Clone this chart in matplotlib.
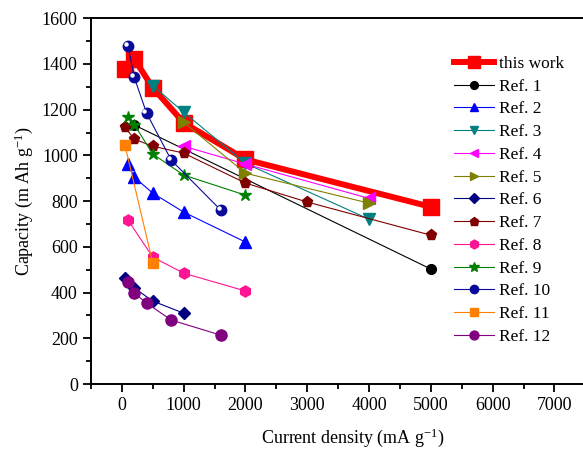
import matplotlib
matplotlib.use('Agg')
import matplotlib.pyplot as plt
import matplotlib.transforms as mtrans
from matplotlib.ticker import MultipleLocator, FuncFormatter

plt.rcParams['font.family'] = ['Liberation Serif', 'DejaVu Serif']
plt.rcParams['mathtext.fontset'] = 'stix'

# data (current density mA/g, capacity mAh/g)
this_x = [50, 200, 500, 1000, 2000, 5000]
this_y = [1378, 1422, 1296, 1143, 982, 775]
ref1_x = [200, 5000]
ref1_y = [1133, 503]
ref2_x = [100, 200, 500, 1000, 2000]
ref2_y = [962, 905, 835, 752, 621]
ref3_x = [500, 1000, 2000, 4000]
ref3_y = [1305, 1189, 965, 721]
ref4_x = [1000, 2000, 4000]
ref4_y = [1040, 962, 812]
ref5_x = [1000, 2000, 4000]
ref5_y = [1145, 922, 791]
ref6_x = [50, 200, 500, 1000]
ref6_y = [463, 420, 363, 310]
ref7_x = [50, 200, 500, 1000, 2000, 3000, 5000]
ref7_y = [1124, 1071, 1040, 1010, 879, 796, 651]
ref8_x = [100, 500, 1000, 2000]
ref8_y = [717, 555, 485, 407]
ref9_x = [100, 200, 500, 1000, 2000]
ref9_y = [1167, 1135, 1006, 914, 826]
ref10_x = [100, 200, 400, 800, 1600]
ref10_y = [1478, 1342, 1185, 979, 761]
ref11_x = [50, 500]
ref11_y = [1045, 530]
ref12_x = [100, 200, 400, 800, 1600]
ref12_y = [447, 399, 354, 280, 214]

fig = plt.figure(figsize=(5.83, 4.54), dpi=100)
ax = fig.add_axes([0.156, 0.154, 0.901, 0.806])

refs = [
    (ref1_x, ref1_y, '#000000', 'o', 7, 'Ref. 1'),
    (ref2_x, ref2_y, '#0000FF', '^', 8, 'Ref. 2'),
    (ref3_x, ref3_y, '#008080', 'v', 8, 'Ref. 3'),
    (ref4_x, ref4_y, '#FF00FF', '<', 8, 'Ref. 4'),
    (ref5_x, ref5_y, '#808000', '>', 8, 'Ref. 5'),
    (ref6_x, ref6_y, '#000080', 'D', 6.5, 'Ref. 6'),
    (ref7_x, ref7_y, '#800000', 'p', 8, 'Ref. 7'),
    (ref8_x, ref8_y, '#FF1493', 'h', 8, 'Ref. 8'),
    (ref9_x, ref9_y, '#008000', '*', 9, 'Ref. 9'),
    (ref10_x, ref10_y, '#0A0A9A', 'o', 7.5, 'Ref. 10'),
    (ref11_x, ref11_y, '#FF8000', 's', 6.5, 'Ref. 11'),
    (ref12_x, ref12_y, '#800080', 'o', 8, 'Ref. 12'),
]

handles = []
h, = ax.plot(this_x, this_y, color='#FF0000', lw=4.3, marker='s', ms=11,
             label='this work', zorder=2)
handles.append(h)
for x, y, c, m, s, lab in refs:
    h, = ax.plot(x, y, color=c, lw=0.8, marker=m, ms=s, mec=c, mfc=c,
                 label=lab, zorder=3)
    handles.append(h)

# white highlight on the Ref. 10 spheres
off = mtrans.offset_copy(ax.transData, fig=fig, x=-1.5, y=1.5, units='points')
ax.plot(ref10_x, ref10_y, ls='none', marker='o', ms=2.2, mfc='white',
        mec='white', transform=off, zorder=4)

ax.set_xlim(-500, 8000)
ax.set_ylim(0, 1600)
ax.xaxis.set_major_locator(MultipleLocator(1000))
ax.xaxis.set_minor_locator(MultipleLocator(500))
ax.xaxis.set_major_formatter(FuncFormatter(lambda v, p: '' if v > 7500 else '%d' % v))
ax.yaxis.set_major_locator(MultipleLocator(200))
ax.yaxis.set_minor_locator(MultipleLocator(100))
ax.tick_params(which='major', direction='out', length=6, width=1.3,
               labelsize=13, top=False, right=False)
ax.tick_params(which='minor', direction='out', length=3.5, width=1.3,
               top=False, right=False)
for sp in ax.spines.values():
    sp.set_linewidth(1.4)

ax.set_xlabel('Current density (mA g$^{\\mathregular{-1}}$)', fontsize=13,
              labelpad=9)
ax.set_ylabel('Capacity (m Ah g$^{\\mathregular{-1}}$)', fontsize=13,
              labelpad=5)

fig.legend(handles=handles, loc='upper left', bbox_to_anchor=(0.778, 0.877),
           frameon=False, fontsize=12.5, handlelength=2.3, handletextpad=0.3,
           labelspacing=0.38, borderpad=0, borderaxespad=0, markerscale=0.8)

fig.savefig('out.png', dpi=100)
